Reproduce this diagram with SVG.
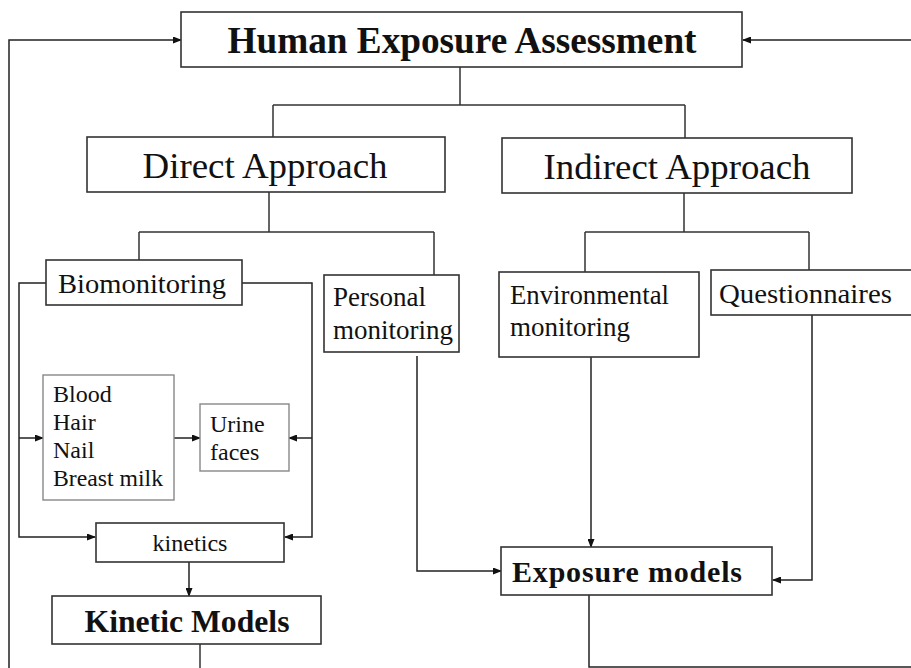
<svg xmlns="http://www.w3.org/2000/svg" width="911" height="668" viewBox="0 0 911 668">
<defs>
<marker id="arr" markerWidth="9" markerHeight="7" refX="8" refY="3.5" orient="auto" markerUnits="userSpaceOnUse">
<path d="M0,0 L9,3.5 L0,7 z" fill="#111"/>
</marker>
<style>
.box{fill:#fff;stroke:#333;stroke-width:1.6}
.lbox{fill:#fff;stroke:#888;stroke-width:1.4}
.ln{fill:none;stroke:#333;stroke-width:1.5}
.ar{fill:none;stroke:#222;stroke-width:1.5;marker-end:url(#arr)}
text{fill:#111}
.b{font-weight:bold}
</style>
</defs>
<rect width="911" height="668" fill="#fff"/>
<g id="connectors">
<path class="ln" d="M460,67 V105 M273,105 H685 M273,105 V137 M685,105 V138"/>
<path class="ln" d="M269,192 V232 M139,232 H434 M139,232 V260 M434,232 V275"/>
<path class="ln" d="M684,193 V232 M585,232 H809 M585,232 V272 M809,232 V270"/>
<path class="ar" d="M46,283 H19 V537 H95"/>
<path class="ar" d="M19,438 H43"/>
<path class="ar" d="M242,283 H312 V537 H285"/>
<path class="ar" d="M312,438 H289"/>
<path class="ar" d="M174,438 H200"/>
<path class="ar" d="M189,562 V596"/>
<path class="ar" d="M417,356 V571 H501"/>
<path class="ar" d="M591,357 V547"/>
<path class="ar" d="M812,315 V580 H773"/>
<path class="ln" d="M200,644 V668"/>
<path class="ar" d="M9,668 V40 H181"/>
<path class="ar" d="M589,595 V667 H925 V40 H743"/>
</g>
<g font-family="Liberation Serif, Times New Roman, serif">
<g id="hea">
<rect class="box" x="181" y="12" width="561" height="55"/>
<text class="b" x="462" y="53" font-size="37" text-anchor="middle" textLength="469" lengthAdjust="spacingAndGlyphs">Human Exposure Assessment</text>
</g>
<g id="direct">
<rect class="box" x="87" y="137" width="358" height="55"/>
<text x="265" y="178" font-size="36" text-anchor="middle" textLength="245" lengthAdjust="spacingAndGlyphs">Direct Approach</text>
</g>
<g id="indirect">
<rect class="box" x="502" y="138" width="350" height="55"/>
<text x="677" y="179" font-size="36" text-anchor="middle" textLength="267" lengthAdjust="spacingAndGlyphs">Indirect Approach</text>
</g>
<g id="biomonitoring">
<rect class="box" x="46" y="260" width="196" height="45"/>
<text x="58" y="293" font-size="28" textLength="168" lengthAdjust="spacingAndGlyphs">Biomonitoring</text>
</g>
<g id="personal">
<rect class="box" x="324" y="275" width="135" height="77"/>
<text x="333" y="306" font-size="27">Personal</text>
<text x="333" y="339" font-size="27" textLength="120" lengthAdjust="spacingAndGlyphs">monitoring</text>
</g>
<g id="environmental">
<rect class="box" x="499" y="272" width="200" height="85"/>
<text x="510" y="304" font-size="27" textLength="159" lengthAdjust="spacingAndGlyphs">Environmental</text>
<text x="510" y="336" font-size="27">monitoring</text>
</g>
<g id="questionnaires">
<rect class="box" x="711" y="270" width="210" height="45"/>
<text x="719" y="303" font-size="28" textLength="173" lengthAdjust="spacingAndGlyphs">Questionnaires</text>
</g>
<g id="samples">
<rect class="lbox" x="43" y="375" width="131" height="125"/>
<text x="53" y="402" font-size="24">Blood</text>
<text x="53" y="430" font-size="24">Hair</text>
<text x="53" y="458" font-size="24">Nail</text>
<text x="53" y="486" font-size="24" textLength="110" lengthAdjust="spacingAndGlyphs">Breast milk</text>
</g>
<g id="urine">
<rect class="lbox" x="200" y="404" width="89" height="67"/>
<text x="210" y="432" font-size="24">Urine</text>
<text x="210" y="460" font-size="24">faces</text>
</g>
<g id="kinetics">
<rect class="box" x="96" y="523" width="188" height="39"/>
<text x="190" y="551" font-size="24" text-anchor="middle" textLength="75" lengthAdjust="spacingAndGlyphs">kinetics</text>
</g>
<g id="kinetic-models">
<rect class="box" x="52" y="596" width="269" height="48"/>
<text class="b" x="187" y="632" font-size="31" text-anchor="middle" textLength="205" lengthAdjust="spacingAndGlyphs">Kinetic Models</text>
</g>
<g id="exposure-models">
<rect class="box" x="501" y="547" width="271" height="48"/>
<text class="b" x="512" y="582" font-size="30" textLength="230" lengthAdjust="spacing">Exposure models</text>
</g>
</g>
</svg>
